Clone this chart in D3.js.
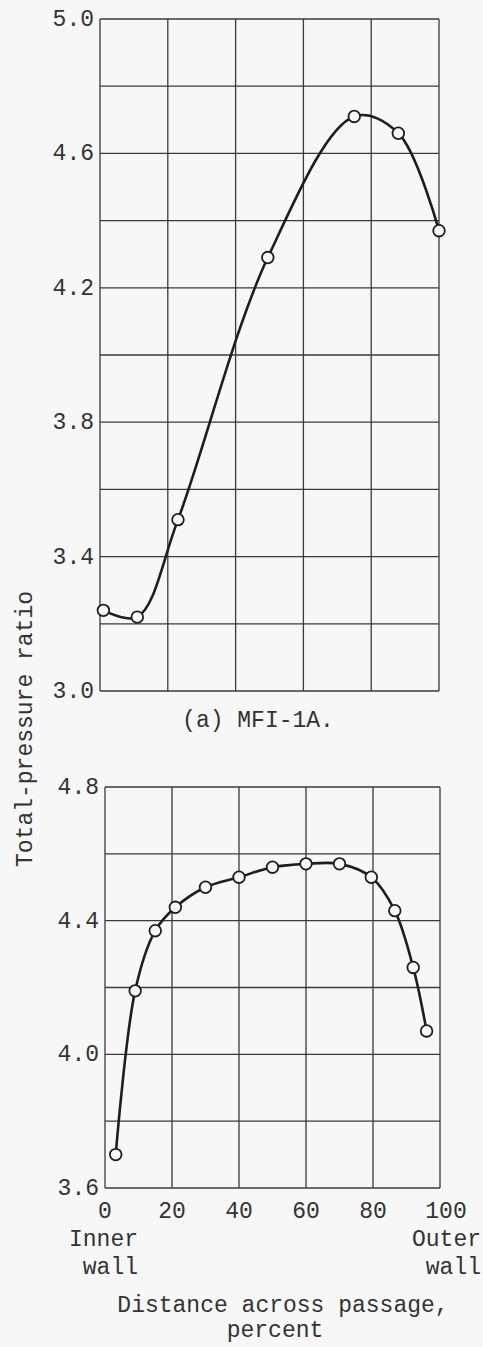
<!DOCTYPE html>
<html>
<head>
<meta charset="utf-8">
<script src="https://cdn.jsdelivr.net/npm/d3@7"></script>
<style>
  html, body { margin: 0; padding: 0; background: #f7f7f7; }
  svg { display: block; }
  text { font-family: "Liberation Mono", "DejaVu Sans Mono", monospace; fill: #333; }
</style>
</head>
<body>
<svg id="chart" width="483" height="1347"></svg>
<script>
// ---- Data ----
// (a) MFI-1A
const topX = [1, 11, 23, 49.5, 75, 88, 100];
const topY = [3.24, 3.22, 3.51, 4.29, 4.71, 4.66, 4.37];
const topYTicks = [3.0, 3.4, 3.8, 4.2, 4.6, 5.0];
const topYGrid = [3.0, 3.2, 3.4, 3.6, 3.8, 4.0, 4.2, 4.4, 4.6, 4.8, 5.0];
const topCaption = "(a) MFI-1A.";

// lower panel
const botX = [3.2, 9, 15, 21, 30, 40, 50, 60, 70, 79.5, 86.5, 92, 96];
const botY = [3.70, 4.19, 4.37, 4.44, 4.50, 4.53, 4.56, 4.57, 4.57, 4.53, 4.43, 4.26, 4.07];
const botYTicks = [3.6, 4.0, 4.4, 4.8];
const botYGrid = [3.6, 3.8, 4.0, 4.2, 4.4, 4.6, 4.8];

const xTicks = [0, 20, 40, 60, 80, 100];
const yTitle = "Total-pressure ratio";
const xTitle1 = "Distance across passage,";
const xTitle2 = "percent";

// ---- Drawing ----
const svg = d3.select("#chart");
const FS = 23;

function panel(cfg) {
  const x = d3.scaleLinear().domain([0, 100]).range(cfg.xr);
  const y = d3.scaleLinear().domain(cfg.yd).range(cfg.yr);
  const g = svg.append("g");

  g.selectAll("line.h").data(cfg.grid).enter().append("line")
    .attr("x1", x(0)).attr("x2", x(100))
    .attr("y1", d => y(d)).attr("y2", d => y(d))
    .attr("stroke", "#3a3a3a").attr("stroke-width", 1.3);
  g.selectAll("line.v").data(xTicks).enter().append("line")
    .attr("x1", d => x(d)).attr("x2", d => x(d))
    .attr("y1", y(cfg.yd[0])).attr("y2", y(cfg.yd[1]))
    .attr("stroke", "#3a3a3a").attr("stroke-width", 1.3);

  g.selectAll("text.yt").data(cfg.yticks).enter().append("text")
    .attr("x", x(0) - 6)
    .attr("y", d => y(d) + 7)
    .attr("text-anchor", "end")
    .attr("font-size", FS)
    .text(d => d.toFixed(1));

  const pts = cfg.xs.map((v, i) => [v, cfg.ys[i]]);
  const line = d3.line().x(d => x(d[0])).y(d => y(d[1])).curve(d3.curveCatmullRom.alpha(0.5));
  g.append("path").datum(pts).attr("d", line)
    .attr("fill", "none").attr("stroke", "#1e1e1e").attr("stroke-width", 2.6);

  g.selectAll("circle").data(pts).enter().append("circle")
    .attr("cx", d => x(d[0])).attr("cy", d => y(d[1])).attr("r", 5.8)
    .attr("fill", "#f7f7f7").attr("stroke", "#1e1e1e").attr("stroke-width", 1.8);

  return { x, y, g };
}

const panelA = panel({ xr: [100, 439], yd: [3.0, 5.0], yr: [691, 19], grid: topYGrid, yticks: topYTicks, xs: topX, ys: topY });
svg.append("text").attr("x", 258).attr("y", 727).attr("text-anchor", "middle").attr("font-size", FS).text(topCaption);

const panelB = panel({ xr: [105, 440], yd: [3.6, 4.8], yr: [1188, 787], grid: botYGrid, yticks: botYTicks, xs: botX, ys: botY });

svg.selectAll("text.xt").data(xTicks).enter().append("text")
  .attr("x", d => panelB.x(d) + (d === 100 ? 6 : 0))
  .attr("y", 1218)
  .attr("text-anchor", "middle")
  .attr("font-size", FS)
  .text(d => d);

svg.append("text").attr("x", 138).attr("y", 1246).attr("text-anchor", "end").attr("font-size", FS).text("Inner");
svg.append("text").attr("x", 138).attr("y", 1274).attr("text-anchor", "end").attr("font-size", FS).text("wall");
svg.append("text").attr("x", 481).attr("y", 1246).attr("text-anchor", "end").attr("font-size", FS).text("Outer");
svg.append("text").attr("x", 481).attr("y", 1274).attr("text-anchor", "end").attr("font-size", FS).text("wall");

svg.append("text").attr("x", 283).attr("y", 1312).attr("text-anchor", "middle").attr("font-size", FS).text(xTitle1);
svg.append("text").attr("x", 275).attr("y", 1337).attr("text-anchor", "middle").attr("font-size", FS).text(xTitle2);

svg.append("text")
  .attr("transform", "translate(32,729) rotate(-90)")
  .attr("text-anchor", "middle").attr("font-size", FS).text(yTitle);
</script>
</body>
</html>
